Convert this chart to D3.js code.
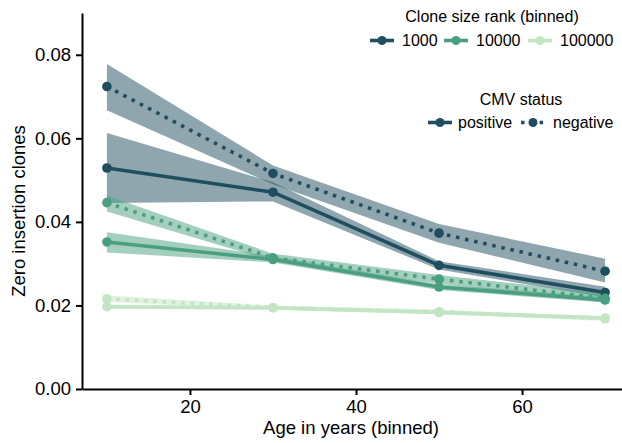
<!DOCTYPE html>
<html>
<head>
<meta charset="utf-8">
<script src="https://cdn.jsdelivr.net/npm/d3@7"></script>
<style>
  html, body { margin: 0; padding: 0; background: #fff; }
  svg { display: block; font-family: "Liberation Sans", Arial, Helvetica, sans-serif; }
</style>
</head>
<body>
<svg id="chart" width="622" height="443"></svg>
<script>
// Age bins (x) and group labels
const ages = [10, 30, 50, 70];
const sizeRanks = ["1000", "10000", "100000"];
const cmvStatus = ["positive", "negative"];
const xTicks = [20, 40, 60];
const yTicks = [0, 0.02, 0.04, 0.06, 0.08];

// Mean fraction of zero-insertion clones
const pos1000 = [0.0529, 0.0471, 0.0296, 0.0231];
const neg1000 = [0.0724, 0.0516, 0.0373, 0.0282];
const pos10000 = [0.0352, 0.0310, 0.0244, 0.0213];
const neg10000 = [0.0446, 0.0314, 0.0263, 0.0217];
const pos100000 = [0.0197, 0.0194, 0.0183, 0.0170];
const neg100000 = [0.0216, 0.0195, 0.0185, 0.0168];

// Confidence interval bounds
const pos1000Lo = [0.0445, 0.0449, 0.0286, 0.0219];
const pos1000Hi = [0.0613, 0.0495, 0.0306, 0.0245];
const neg1000Lo = [0.0667, 0.0490, 0.0350, 0.0255];
const neg1000Hi = [0.0778, 0.0535, 0.0395, 0.0312];
const pos10000Lo = [0.0327, 0.0303, 0.0237, 0.0207];
const pos10000Hi = [0.0375, 0.0318, 0.0251, 0.0220];
const neg10000Lo = [0.0425, 0.0306, 0.0252, 0.0207];
const neg10000Hi = [0.0463, 0.0324, 0.0273, 0.0228];
const pos100000Lo = [0.0192, 0.0190, 0.0179, 0.0165];
const pos100000Hi = [0.0202, 0.0198, 0.0187, 0.0175];
const neg100000Lo = [0.0208, 0.0190, 0.0180, 0.0163];
const neg100000Hi = [0.0224, 0.0200, 0.0190, 0.0173];

const rankColors = ["#1f4e5f", "#4a9f80", "#c3e5c3"];

const series = [
  { rank: "1000",   cmv: "positive", mean: pos1000,   lo: pos1000Lo,   hi: pos1000Hi },
  { rank: "1000",   cmv: "negative", mean: neg1000,   lo: neg1000Lo,   hi: neg1000Hi },
  { rank: "10000",  cmv: "positive", mean: pos10000,  lo: pos10000Lo,  hi: pos10000Hi },
  { rank: "10000",  cmv: "negative", mean: neg10000,  lo: neg10000Lo,  hi: neg10000Hi },
  { rank: "100000", cmv: "positive", mean: pos100000, lo: pos100000Lo, hi: pos100000Hi },
  { rank: "100000", cmv: "negative", mean: neg100000, lo: neg100000Lo, hi: neg100000Hi }
];

const color = d3.scaleOrdinal().domain(sizeRanks).range(rankColors);
const dash = d3.scaleOrdinal().domain(cmvStatus).range([null, "3.5,5.8"]);

const svg = d3.select("#chart");
const x = d3.scaleLinear().domain([7, 73]).range([82, 630]);
const y = d3.scaleLinear().domain([0, 0.09]).range([389, 13]);

const lw = 3.6;

// Confidence bands
const area = d3.area()
  .x((d, i) => x(ages[i]))
  .y0(d => y(d[0]))
  .y1(d => y(d[1]));

svg.append("g").selectAll("path")
  .data(series)
  .join("path")
  .attr("d", s => area(s.lo.map((v, i) => [v, s.hi[i]])))
  .attr("fill", s => color(s.rank))
  .attr("fill-opacity", 0.5)
  .attr("stroke", "none");

// Mean lines and markers
const line = d3.line().x((d, i) => x(ages[i])).y(d => y(d));
const gLines = svg.append("g");
series.forEach(s => {
  const g = gLines.append("g");
  g.append("path")
    .attr("d", line(s.mean))
    .attr("fill", "none")
    .attr("stroke", color(s.rank))
    .attr("stroke-width", lw)
    .attr("stroke-dasharray", dash(s.cmv));
  g.selectAll("circle")
    .data(s.mean)
    .join("circle")
    .attr("cx", (d, i) => x(ages[i]))
    .attr("cy", d => y(d))
    .attr("r", 4.8)
    .attr("fill", color(s.rank));
});

// Axes
const xAxis = svg.append("g")
  .attr("transform", `translate(0,${y(0)})`)
  .call(d3.axisBottom(x).tickValues(xTicks).tickSize(6).tickPadding(5).tickSizeOuter(0));
const yAxis = svg.append("g")
  .attr("transform", `translate(${x(7)},0)`)
  .call(d3.axisLeft(y).tickValues(yTicks).tickFormat(d3.format(".2f")).tickSize(6).tickPadding(5).tickSizeOuter(0));
[xAxis, yAxis].forEach(a => {
  a.select(".domain").attr("stroke", "#000").attr("stroke-width", 2);
  a.selectAll(".tick line").attr("stroke", "#000").attr("stroke-width", 2);
  a.selectAll(".tick text").attr("fill", "#000").style("font-size", "18.5px")
    .style("font-family", "'Liberation Sans', Arial, sans-serif");
});

// Axis titles
svg.append("text")
  .attr("x", 351)
  .attr("y", 434)
  .attr("text-anchor", "middle")
  .style("font-size", "18.5px")
  .text("Age in years (binned)");
svg.append("text")
  .attr("transform", `translate(25,${(y(0) + y(0.09)) / 2 + 10}) rotate(-90)`)
  .attr("text-anchor", "middle")
  .style("font-size", "18.5px")
  .text("Zero insertion clones");

// Legends
function handle(g, cx, cy, col, dashed) {
  g.append("line")
    .attr("x1", cx - 12).attr("x2", cx + 12)
    .attr("y1", cy).attr("y2", cy)
    .attr("stroke", col).attr("stroke-width", lw)
    .attr("stroke-dasharray", dashed);
  g.append("circle").attr("cx", cx).attr("cy", cy).attr("r", 4.5).attr("fill", col);
}

const leg = svg.append("g").style("font-size", "16px");
leg.append("text").attr("x", 492).attr("y", 22).attr("text-anchor", "middle")
  .text("Clone size rank (binned)");
const rankHandleX = [382, 456, 540];
const rankLabelX = [402, 476, 560];
sizeRanks.forEach((r, i) => {
  handle(leg, rankHandleX[i], 40.5, color(r), null);
  leg.append("text").attr("x", rankLabelX[i]).attr("y", 46).text(r);
});

leg.append("text").attr("x", 521).attr("y", 105).attr("text-anchor", "middle")
  .text("CMV status");
const cmvHandleX = [440, 533];
const cmvLabelX = [458, 553];
cmvStatus.forEach((c, i) => {
  handle(leg, cmvHandleX[i], 122.5, rankColors[0], dash(c));
  leg.append("text").attr("x", cmvLabelX[i]).attr("y", 128).text(c);
});
</script>
</body>
</html>
